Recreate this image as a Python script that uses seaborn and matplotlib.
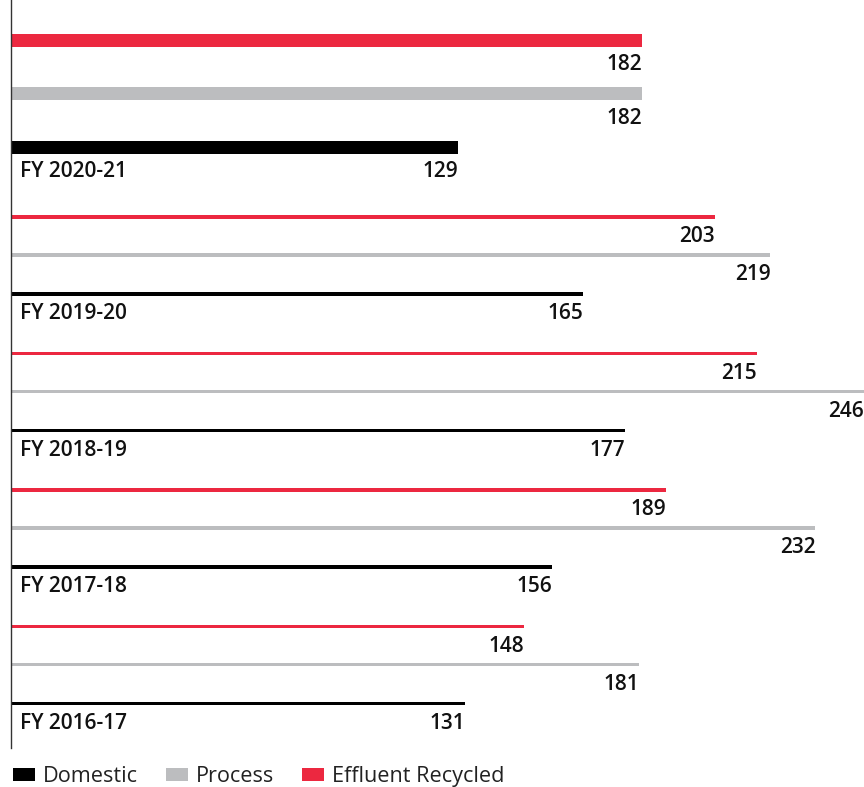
import matplotlib
matplotlib.use("Agg")
import matplotlib.pyplot as plt
import seaborn as sns
from matplotlib.patches import Patch

years = ["FY 2020-21", "FY 2019-20", "FY 2018-19", "FY 2017-18", "FY 2016-17"]
effluent = [182, 203, 215, 189, 148]
process = [182, 219, 246, 232, 181]
domestic = [129, 165, 177, 156, 131]
series_names = ["Domestic", "Process", "Effluent Recycled"]
colors = {"Domestic": "#000000", "Process": "#BCBDBF", "Effluent Recycled": "#EC2840"}

sns.set_style("white")
plt.rcParams["font.family"] = ["Open Sans", "DejaVu Sans"]

W, H = 864, 787
fig = plt.figure(figsize=(W / 100, H / 100), dpi=100)
x0, x1, ytop, ybot = 11, 864, 0, 748
ax = fig.add_axes([x0 / W, 1 - ybot / H, (x1 - x0) / W, (ybot - ytop) / H])
ax.set_xlim(0, 246)
ax.set_ylim(ybot, ytop)

def positions(i):
    # layout: first group uses thick bars and wider spacing
    if i == 0:
        return [40, 93.5, 147], 13
    base = 217 + (i - 1) * 136.5
    return [base, base + 38, base + 77], 3.5

for i, yr in enumerate(years):
    (yr_r, yr_g, yr_b), h = positions(i)
    for yy, val, name in [(yr_r, effluent[i], "Effluent Recycled"),
                          (yr_g, process[i], "Process"),
                          (yr_b, domestic[i], "Domestic")]:
        ax.barh(yy, val, height=h, color=colors[name], linewidth=0)
        ax.text(val, yy + h / 2 + 23.5, f"{val}", ha="right", va="baseline",
                fontsize=15, color="#111111", fontweight="semibold")
    ax.text(2.6, yr_b + h / 2 + 23.5, yr, ha="left", va="baseline", fontsize=15,
            color="#111111", fontweight="semibold")

for s in ["top", "right", "bottom"]:
    ax.spines[s].set_visible(False)
ax.spines["left"].set_color("#333333")
ax.spines["left"].set_linewidth(1)
ax.set_xticks([])
ax.set_yticks([])

handles = [Patch(facecolor=colors[n], edgecolor="none", label=n) for n in series_names]
fig.legend(handles=handles, loc="lower left", bbox_to_anchor=(0.0, -0.017), ncol=3,
           frameon=False, fontsize=15.6, handlelength=1.0, handleheight=0.56,
           handletextpad=0.37, columnspacing=1.3, borderaxespad=0.2,
           labelcolor="#222222")

fig.savefig("out.png", dpi=100)
